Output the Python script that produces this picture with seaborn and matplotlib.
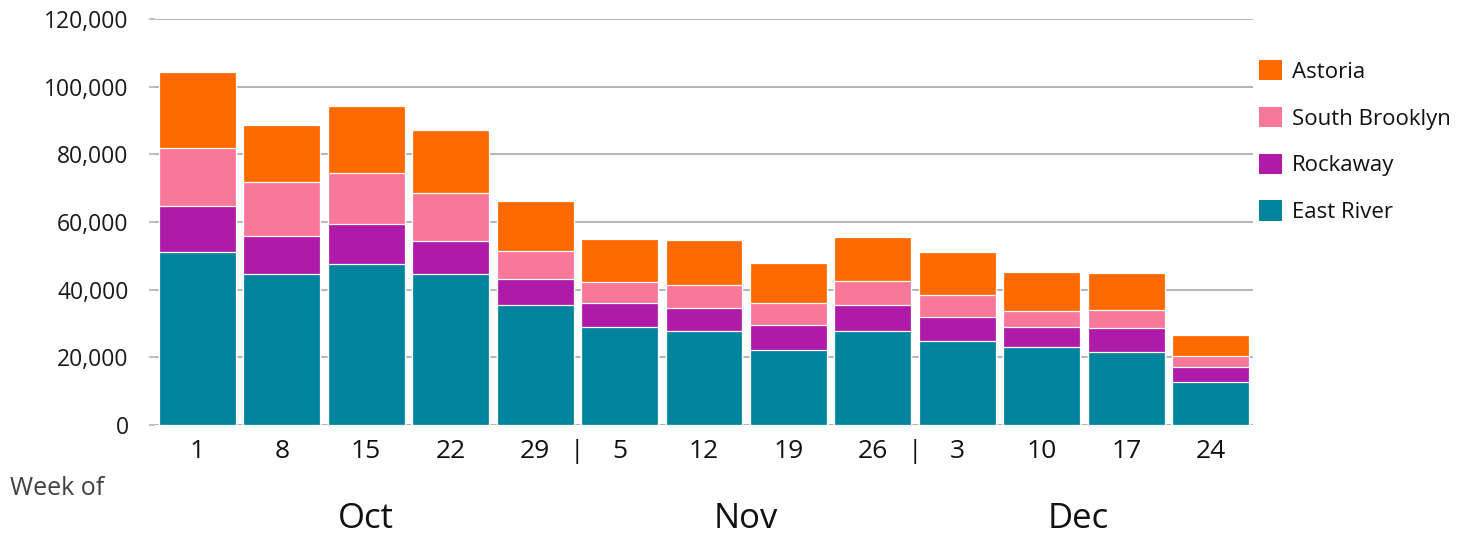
import numpy as np
import pandas as pd
import matplotlib
matplotlib.use("Agg")
import matplotlib.pyplot as plt
import matplotlib.transforms as mtransforms
from matplotlib.patches import Patch
import seaborn as sns

# ---- data (thousands) ----
weeks = ["1", "8", "15", "22", "29", "5", "12", "19", "26", "3", "10", "17", "24"]
months = ["Oct", "Nov", "Dec"]
month_pos = [2.0, 6.5, 10.43]
separator_pos = [4.5, 8.5]
east_river = [51.1, 44.6, 47.6, 44.6, 35.5, 29.0, 27.8, 22.2, 27.8, 24.9, 23.1, 21.7, 12.8]
rockaway = [13.5, 11.4, 11.7, 9.8, 7.6, 7.0, 6.8, 7.3, 7.7, 7.0, 5.9, 7.0, 4.4]
south_brooklyn = [17.3, 15.7, 15.1, 14.3, 8.3, 6.2, 6.9, 6.5, 7.0, 6.5, 4.8, 5.3, 3.3]
astoria = [22.3, 17.1, 20.0, 18.6, 14.7, 12.8, 13.2, 11.9, 13.2, 12.6, 11.3, 10.8, 6.0]
series_names = ["East River", "Rockaway", "South Brooklyn", "Astoria"]
colors = {"East River": "#00849D", "Rockaway": "#B01AA8",
          "South Brooklyn": "#F9789A", "Astoria": "#FF6A00"}

sns.set_theme(style="white")
plt.rcParams["font.family"] = ["Open Sans", "DejaVu Sans"]

values = np.array([east_river, rockaway, south_brooklyn, astoria]) * 1000
cum = np.cumsum(values, axis=0)

fig = plt.figure(figsize=(14.73, 5.35), dpi=100)
ax = fig.add_axes([155 / 1473, 1 - 425 / 535, (1253 - 155) / 1473, (425 - 19) / 535])

# draw from top layer to bottom so each lower cumulative bar covers the upper one
for i in range(len(series_names) - 1, -1, -1):
    df = pd.DataFrame({"week": weeks, "value": cum[i]})
    sns.barplot(data=df, x="week", y="value", order=weeks, color=colors[series_names[i]],
                saturation=1, width=0.91, edgecolor="white", linewidth=0.9, ax=ax, zorder=2)

ax.set_xlim(-0.5, len(weeks) - 0.5)
ax.set_ylim(0, 120000)
ax.set_yticks(np.arange(0, 120001, 20000))
ax.yaxis.set_major_formatter(matplotlib.ticker.FuncFormatter(lambda v, p: f"{int(v):,}"))
ax.grid(axis="y", color="#B4B4B4", linewidth=1.4, zorder=0)
ax.grid(axis="x", visible=False)
ax.set_axisbelow(True)
for s in ax.spines.values():
    s.set_visible(False)
ax.set_xlabel("")
ax.set_ylabel("")

ax.tick_params(axis="y", which="major", length=4, width=1.2, color="#B4B4B4",
               pad=15, labelsize=16.5, labelcolor="#1a1a1a", left=True)
ax.tick_params(axis="x", which="major", length=0, pad=10, labelsize=19, labelcolor="#111111")

ax.set_xticks(separator_pos, ["|"] * len(separator_pos), minor=True)
ax.tick_params(axis="x", which="minor", length=0, pad=10, labelsize=19, labelcolor="#111111")

# month labels
trans = mtransforms.blended_transform_factory(ax.transData, fig.transFigure)
for m, p in zip(months, month_pos):
    ax.text(p, 1 - 528 / 535, m, transform=trans, ha="center", va="baseline",
            fontsize=25, color="#111111")

fig.text(10 / 1473, 1 - 495 / 535, "Week of", ha="left", va="baseline",
         fontsize=18, color="#404040")

handles = [Patch(facecolor=colors[n], edgecolor="none") for n in series_names[::-1]]
fig.legend(handles, series_names[::-1], loc="upper left",
           bbox_to_anchor=(1259 / 1473, 1 - 60 / 535), frameon=False,
           fontsize=16, handlelength=1.04, handleheight=1.04, handletextpad=0.45,
           labelspacing=1.08, borderpad=0, borderaxespad=0, labelcolor="#111111")

fig.savefig("out.png", dpi=100)
